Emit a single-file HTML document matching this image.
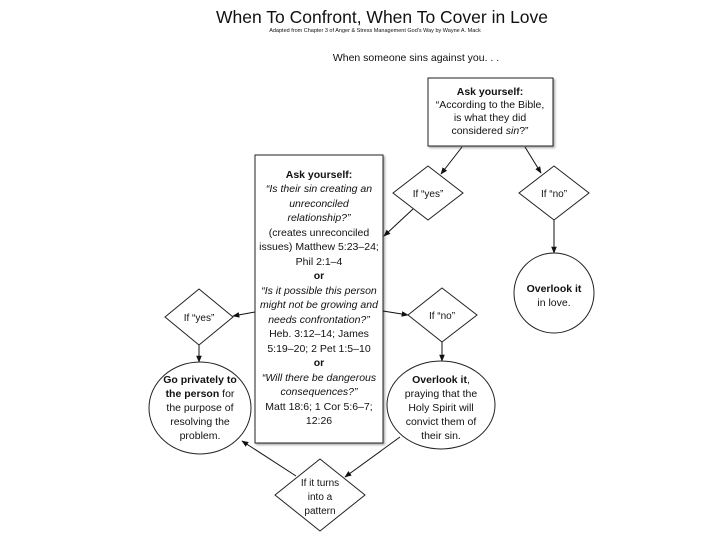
<!DOCTYPE html>
<html><head><meta charset="utf-8"><style>
html,body{margin:0;padding:0;background:#fff;}
svg{display:block;font-family:"Liberation Sans",sans-serif;}
text{fill:#111;}
</style></head><body>
<svg width="720" height="540" viewBox="0 0 720 540" xmlns="http://www.w3.org/2000/svg">
<defs>
<marker id="a" viewBox="0 0 10 10" refX="9" refY="5" markerWidth="7" markerHeight="7" orient="auto"><path d="M0,1 L10,5 L0,9 z" fill="#111"/></marker>
<filter id="s" x="-10%" y="-10%" width="130%" height="130%"><feDropShadow dx="1.5" dy="1.5" stdDeviation="1" flood-color="#000" flood-opacity="0.35"/></filter>
</defs>
<text x="382" y="23" font-size="17.5" text-anchor="middle">When To Confront, When To Cover in Love</text>
<text x="375" y="32" font-size="5.5" text-anchor="middle">Adapted from Chapter 3 of Anger &amp; Stress Management God's Way by Wayne A. Mack</text>
<text x="416" y="61" font-size="10.5" text-anchor="middle">When someone sins against you. . .</text>

<g stroke="#222" stroke-width="1" fill="#fff">
<rect x="428" y="78" width="125" height="68" filter="url(#s)"/>
<rect x="255" y="155" width="128" height="288" filter="url(#s)"/>
<polygon points="428,166 463,193 428,220 393,193"/>
<polygon points="554,166 589,193 554,220 519,193"/>
<polygon points="199,289 233,317 199,345 165,317"/>
<polygon points="442,288 477,315 442,342 408,315"/>
<polygon points="320,459 365,495 320,531 275,495"/>
<ellipse cx="554" cy="293" rx="40" ry="40"/>
<ellipse cx="200" cy="408" rx="51" ry="46"/>
<ellipse cx="441" cy="405" rx="54" ry="44"/>
</g>

<g stroke="#111" stroke-width="1" fill="none" marker-end="url(#a)">
<line x1="462" y1="147" x2="441" y2="174"/>
<line x1="525" y1="147" x2="541" y2="173"/>
<line x1="554" y1="220" x2="554" y2="253"/>
<line x1="413" y1="209" x2="384" y2="236"/>
<line x1="255" y1="312" x2="233" y2="316"/>
<line x1="383" y1="311" x2="408" y2="315"/>
<line x1="199" y1="345" x2="199" y2="362"/>
<line x1="442" y1="342" x2="442" y2="361"/>
<line x1="296" y1="476" x2="242" y2="441"/>
<line x1="400" y1="437" x2="345" y2="477"/>
</g>

<g font-size="10.5" text-anchor="middle">
<text x="490" y="95" font-weight="bold">Ask yourself:</text>
<text x="490" y="108">“According to the Bible,</text>
<text x="490" y="121">is what they did</text>
<text x="490" y="134">considered <tspan font-style="italic">sin</tspan>?”</text>

<text x="428" y="197" font-size="10">If “yes”</text>
<text x="554" y="197" font-size="10">If “no”</text>
<text x="199" y="321" font-size="10">If “yes”</text>
<text x="442" y="319" font-size="10">If “no”</text>

<text x="554" y="292"><tspan font-weight="bold">Overlook it</tspan></text>
<text x="554" y="306">in love.</text>

<text x="200" y="383" font-weight="bold">Go privately to</text>
<text x="200" y="397"><tspan font-weight="bold">the person</tspan> for</text>
<text x="200" y="411">the purpose of</text>
<text x="200" y="425">resolving the</text>
<text x="200" y="439">problem.</text>

<text x="441" y="383"><tspan font-weight="bold">Overlook it</tspan>,</text>
<text x="441" y="397">praying that the</text>
<text x="441" y="411">Holy Spirit will</text>
<text x="441" y="425">convict them of</text>
<text x="441" y="439">their sin.</text>

<text x="320" y="486" font-size="10">If it turns</text>
<text x="320" y="500" font-size="10">into a</text>
<text x="320" y="514" font-size="10">pattern</text>

<text x="319" y="178" font-weight="bold">Ask yourself:</text>
<text x="319" y="192" font-style="italic">“Is their sin creating an</text>
<text x="319" y="207" font-style="italic">unreconciled</text>
<text x="319" y="221" font-style="italic">relationship?”</text>
<text x="319" y="236">(creates unreconciled</text>
<text x="319" y="250">issues) Matthew 5:23–24;</text>
<text x="319" y="265">Phil 2:1–4</text>
<text x="319" y="279" font-weight="bold">or</text>
<text x="319" y="294" font-style="italic">“Is it possible this person</text>
<text x="319" y="308" font-style="italic">might not be growing and</text>
<text x="319" y="323" font-style="italic">needs confrontation?”</text>
<text x="319" y="337">Heb. 3:12–14; James</text>
<text x="319" y="352">5:19–20; 2 Pet 1:5–10</text>
<text x="319" y="366" font-weight="bold">or</text>
<text x="319" y="381" font-style="italic">“Will there be dangerous</text>
<text x="319" y="395" font-style="italic">consequences?”</text>
<text x="319" y="410">Matt 18:6; 1 Cor 5:6–7;</text>
<text x="319" y="424">12:26</text>
</g>
</svg>
</body></html>
